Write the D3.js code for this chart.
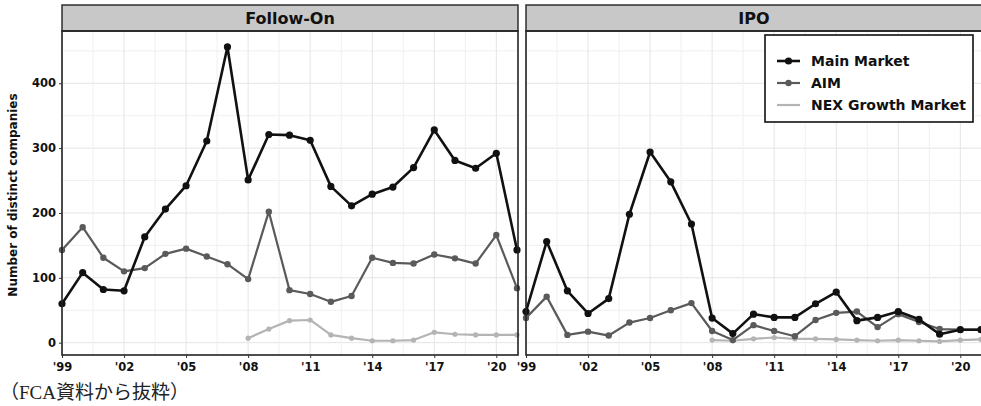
<!DOCTYPE html>
<html>
<head>
<meta charset="utf-8">
<script src="https://cdn.jsdelivr.net/npm/d3@7/dist/d3.min.js"></script>
<style>
  html, body { margin: 0; padding: 0; background: #fff; }
  svg { display: block; }
  .tick-label { font-family: "DejaVu Sans", sans-serif; font-weight: bold; font-size: 11.5px; fill: #111; }
</style>
</head>
<body>
<svg id="chart" width="981" height="406"></svg>
<script>
// Distinct companies raising capital on UK markets, 1999-2021
const years = [1999, 2000, 2001, 2002, 2003, 2004, 2005, 2006, 2007, 2008, 2009, 2010,
               2011, 2012, 2013, 2014, 2015, 2016, 2017, 2018, 2019, 2020, 2021];
const nexYears = [2008, 2009, 2010, 2011, 2012, 2013, 2014, 2015, 2016, 2017, 2018, 2019, 2020, 2021];

const followOnMain = [60, 108, 82, 80, 163, 206, 242, 311, 456, 251, 321, 320,
                      312, 241, 211, 229, 240, 270, 328, 281, 269, 292, 143];
const followOnAIM  = [143, 178, 131, 110, 115, 137, 145, 133, 121, 98, 202, 81,
                      75, 63, 72, 131, 123, 122, 136, 130, 122, 166, 84];
const followOnNEX  = [7, 21, 34, 35, 12, 7, 3, 3, 4, 16, 13, 12, 12, 12];

const ipoMain = [48, 156, 80, 45, 68, 198, 294, 248, 183, 38, 14, 44,
                 39, 39, 60, 78, 34, 39, 48, 36, 13, 20, 20];
const ipoAIM  = [38, 71, 12, 17, 11, 31, 38, 50, 61, 18, 4, 27,
                 18, 10, 35, 46, 48, 24, 44, 32, 21, 20, 20];
const ipoNEX  = [4, 3, 6, 8, 6, 6, 5, 4, 3, 4, 3, 2, 4, 5];

const panelNames = ["Follow-On", "IPO"];
const seriesNames = ["Main Market", "AIM", "NEX Growth Market"];
const xTickValues = [1999, 2002, 2005, 2008, 2011, 2014, 2017, 2020];
const xTickLabels = ["'99", "'02", "'05", "'08", "'11", "'14", "'17", "'20"];
const yTickValues = [0, 100, 200, 300, 400];
const yTitle = "Number of distinct companies";
const sourceNote = "（FCA資料から抜粋）";

// Series styling
const styles = [
  { color: "#111111", width: 2.6, r: 3.6 },
  { color: "#5a5a5a", width: 2.2, r: 3.2 },
  { color: "#b4b4b4", width: 2.2, r: 2.6 }
];

const svg = d3.select("#chart");

const panelW = 456;
const stripTop = 5, stripH = 26;
const plotTop = stripTop + stripH, plotBottom = 355;
const panelLefts = [62, 526];

const x = d3.scaleLinear().domain([1999, 2021]).range([0, panelW - 1]);
const y = d3.scaleLinear().domain([-19, 480.6]).range([plotBottom, plotTop]);

const panels = [
  { name: panelNames[0], series: [
      years.map((yr, i) => ({ year: yr, value: followOnMain[i] })),
      years.map((yr, i) => ({ year: yr, value: followOnAIM[i] })),
      nexYears.map((yr, i) => ({ year: yr, value: followOnNEX[i] }))
  ]},
  { name: panelNames[1], series: [
      years.map((yr, i) => ({ year: yr, value: ipoMain[i] })),
      years.map((yr, i) => ({ year: yr, value: ipoAIM[i] })),
      nexYears.map((yr, i) => ({ year: yr, value: ipoNEX[i] }))
  ]}
];

const line = d3.line().x(d => x(d.year)).y(d => y(d.value));

panels.forEach((p, pi) => {
  const g = svg.append("g").attr("transform", `translate(${panelLefts[pi]},0)`);

  // panel background
  g.append("rect").attr("x", 0).attr("y", plotTop).attr("width", panelW).attr("height", plotBottom - plotTop)
    .attr("fill", "#fff");

  // grid: major and minor
  const yGrid = d3.range(0, 451, 50);
  g.append("g").selectAll("line").data(yGrid).join("line")
    .attr("x1", 0).attr("x2", panelW).attr("y1", d => y(d)).attr("y2", d => y(d))
    .attr("stroke", d => d % 100 === 0 ? "#e4e4e4" : "#f0f0f0").attr("stroke-width", 1);
  const xGrid = d3.range(1999, 2021.1, 1.5);
  g.append("g").selectAll("line").data(xGrid).join("line")
    .attr("y1", plotTop).attr("y2", plotBottom).attr("x1", d => x(d)).attr("x2", d => x(d))
    .attr("stroke", (d, i) => i % 2 === 0 ? "#e4e4e4" : "#f0f0f0").attr("stroke-width", 1);

  // series, drawn light to dark so Main Market sits on top
  [2, 1, 0].forEach(si => {
    const s = styles[si];
    g.append("path").datum(p.series[si]).attr("d", line)
      .attr("fill", "none").attr("stroke", s.color).attr("stroke-width", s.width)
      .attr("stroke-linejoin", "round");
    g.append("g").selectAll("circle").data(p.series[si]).join("circle")
      .attr("cx", d => x(d.year)).attr("cy", d => y(d.value)).attr("r", s.r)
      .attr("fill", s.color);
  });

  // strip
  g.append("rect").attr("x", 0).attr("y", stripTop).attr("width", panelW).attr("height", stripH)
    .attr("fill", "#c8c8c8").attr("stroke", "#222").attr("stroke-width", 1.4);
  g.append("text").attr("x", panelW / 2).attr("y", stripTop + stripH / 2 + 5.5)
    .attr("text-anchor", "middle")
    .style("font-family", "DejaVu Sans, sans-serif").style("font-weight", "bold").style("font-size", "16px")
    .attr("fill", "#111").text(p.name);

  // panel border
  g.append("rect").attr("x", 0).attr("y", plotTop).attr("width", panelW).attr("height", plotBottom - plotTop)
    .attr("fill", "none").attr("stroke", "#222").attr("stroke-width", 1.6);

  // x axis
  const xAxis = d3.axisBottom(x).tickValues(xTickValues)
    .tickFormat((d, i) => xTickLabels[i]).tickSize(3).tickPadding(5);
  const xg = g.append("g").attr("transform", `translate(0,${plotBottom})`).call(xAxis);
  xg.select(".domain").remove();
  xg.selectAll(".tick line").attr("stroke", "#333");
  xg.selectAll(".tick text").attr("class", "tick-label").attr("fill", null);

  // y axis on the first panel only
  if (pi === 0) {
    const yAxis = d3.axisLeft(y).tickValues(yTickValues).tickSize(3).tickPadding(3);
    const yg = g.append("g").call(yAxis);
    yg.select(".domain").remove();
    yg.selectAll(".tick line").attr("stroke", "#333");
    yg.selectAll(".tick text").attr("class", "tick-label").attr("fill", null);
  }
});

// y-axis title
svg.append("text")
  .attr("transform", "translate(17,195) rotate(-90)")
  .attr("text-anchor", "middle")
  .style("font-family", "DejaVu Sans, sans-serif").style("font-weight", "bold").style("font-size", "12px")
  .attr("fill", "#111").text(yTitle);

// legend
const lg = svg.append("g").attr("transform", "translate(765,35)");
lg.append("rect").attr("width", 208).attr("height", 87)
  .attr("fill", "#fff").attr("stroke", "#111").attr("stroke-width", 1.6);
seriesNames.forEach((name, i) => {
  const s = styles[i];
  const ly = 26 + i * 22;
  lg.append("line").attr("x1", 12).attr("x2", 35).attr("y1", ly).attr("y2", ly)
    .attr("stroke", s.color).attr("stroke-width", s.width);
  if (i < 2) {
    lg.append("circle").attr("cx", 23.5).attr("cy", ly).attr("r", s.r).attr("fill", s.color);
  }
  lg.append("text").attr("x", 46).attr("y", ly + 5)
    .style("font-family", "DejaVu Sans, sans-serif").style("font-weight", "bold").style("font-size", "14px")
    .attr("fill", "#111").text(name);
});

// source note
svg.append("text").attr("x", 0).attr("y", 399)
  .style("font-family", "Liberation Serif, Noto Sans CJK JP, serif").style("font-size", "19px")
  .attr("fill", "#222").text(sourceNote);
</script>
</body>
</html>
